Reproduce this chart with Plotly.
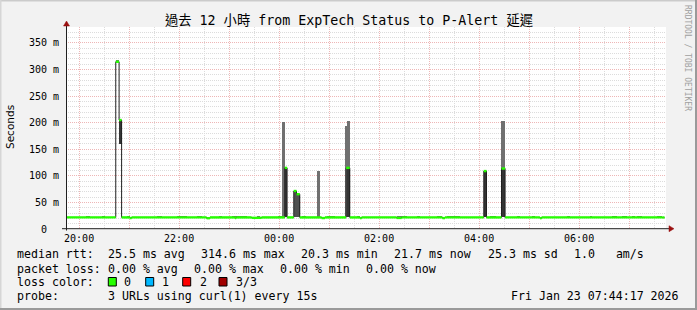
import pandas as pd
import plotly.graph_objects as go

# ---------------- data ----------------
t_start = "2026-01-22 19:44:17"
t_end = "2026-01-23 07:44:17"

median_times = [
    "2026-01-22 19:44:17", "2026-01-22 20:44:00", "2026-01-22 20:48:00", "2026-01-22 20:51:00",
    "2026-01-22 21:01:00", "2026-01-22 21:03:00", "2026-01-22 22:33:00", "2026-01-22 22:37:00",
    "2026-01-22 23:07:00", "2026-01-22 23:08:30", "2026-01-22 23:27:00", "2026-01-22 23:39:00",
    "2026-01-23 00:06:48", "2026-01-23 00:09:36", "2026-01-23 00:17:36", "2026-01-23 00:20:54",
    "2026-01-23 00:24:48", "2026-01-23 00:51:00", "2026-01-23 00:55:00", "2026-01-23 01:20:24",
    "2026-01-23 01:24:48", "2026-01-23 01:37:00", "2026-01-23 01:39:00", "2026-01-23 02:21:00",
    "2026-01-23 02:27:00", "2026-01-23 03:16:00", "2026-01-23 03:19:00", "2026-01-23 04:05:36",
    "2026-01-23 04:08:54", "2026-01-23 04:26:54", "2026-01-23 04:31:12", "2026-01-23 05:13:00",
    "2026-01-23 05:15:00", "2026-01-23 07:40:00",
]
median_ms = [21.8, 314.6, 205.0, 21.8,
             20.6, 21.8, 20.3, 21.8,
             20.6, 21.8, 21.0, 21.8,
             115.0, 21.8, 71.5, 65.5,
             21.8, 20.6, 21.8, 115.0,
             21.8, 20.5, 21.8, 20.8,
             21.8, 20.5, 21.8, 109.0,
             21.8, 113.8, 21.8, 20.4,
             21.8, 21.7]
median_last = "2026-01-23 07:42:30"

# light smoke (spread of the pings)
light_start = ["2026-01-22 20:44:00", "2026-01-23 00:03:36", "2026-01-23 00:44:54", "2026-01-23 01:18:48",
               "2026-01-23 01:21:36", "2026-01-23 04:25:42",
               "2026-01-22 20:08:00", "2026-01-22 20:28:00", "2026-01-22 20:57:00", "2026-01-22 21:33:00",
               "2026-01-22 21:57:00", "2026-01-22 22:21:00", "2026-01-22 22:49:00", "2026-01-22 23:04:00",
               "2026-01-22 23:33:00", "2026-01-22 23:59:00", "2026-01-23 00:28:00", "2026-01-23 00:57:00",
               "2026-01-23 01:33:00", "2026-01-23 02:21:00", "2026-01-23 02:45:00", "2026-01-23 03:10:00",
               "2026-01-23 03:21:00", "2026-01-23 04:13:00", "2026-01-23 04:45:00", "2026-01-23 05:03:00",
               "2026-01-23 05:45:00", "2026-01-23 06:13:00", "2026-01-23 06:40:00", "2026-01-23 06:52:00",
               "2026-01-23 07:03:00", "2026-01-23 07:10:00", "2026-01-23 07:34:00"]
light_end = ["2026-01-22 20:48:00", "2026-01-23 00:06:48", "2026-01-23 00:48:48", "2026-01-23 01:21:36",
             "2026-01-23 01:24:48", "2026-01-23 04:31:12",
             "2026-01-22 20:13:00", "2026-01-22 20:31:00", "2026-01-22 21:01:00", "2026-01-22 21:39:00",
             "2026-01-22 22:09:00", "2026-01-22 22:27:00", "2026-01-22 22:51:00", "2026-01-22 23:21:00",
             "2026-01-22 23:37:00", "2026-01-23 00:03:00", "2026-01-23 00:32:00", "2026-01-23 01:07:00",
             "2026-01-23 01:37:00", "2026-01-23 02:33:00", "2026-01-23 02:49:00", "2026-01-23 03:15:00",
             "2026-01-23 03:37:00", "2026-01-23 04:20:00", "2026-01-23 04:49:00", "2026-01-23 05:07:00",
             "2026-01-23 05:49:00", "2026-01-23 06:16:00", "2026-01-23 06:45:00", "2026-01-23 06:58:00",
             "2026-01-23 07:07:00", "2026-01-23 07:16:00", "2026-01-23 07:40:00"]
light_lo = [314.6, 21.8, 21.8, 21.8, 115.0, 113.8] + [21.8] * 27
light_hi = [318.0, 201.0, 109.0, 194.0, 203.0, 203.0,
            25.3, 25.3, 25.3, 25.3, 25.3, 25.3, 25.3, 25.3, 25.3,
            25.3, 25.3, 25.3, 25.3, 25.3, 25.3, 25.3, 25.3, 25.3,
            25.3, 25.3, 25.3, 25.3, 25.3, 25.3, 25.3, 25.3, 25.3]

# dark smoke (pings close to the median)
dark_start = ["2026-01-22 20:48:00", "2026-01-23 00:06:48", "2026-01-23 01:21:36",
              "2026-01-23 04:05:36", "2026-01-23 04:25:42"]
dark_end = ["2026-01-22 20:51:00", "2026-01-23 00:09:36", "2026-01-23 01:24:48",
            "2026-01-23 04:08:54", "2026-01-23 04:30:30"]
dark_lo = [160.0, 21.8, 21.8, 21.8, 21.8]
dark_hi = [205.0, 115.0, 115.0, 109.0, 113.8]

mid_start = ["2026-01-23 00:17:36", "2026-01-23 00:20:54"]
mid_end = ["2026-01-23 00:20:54", "2026-01-23 00:24:48"]
mid_lo = [21.8, 21.8]
mid_hi = [71.5, 65.5]

y_tick_vals = [0, 50, 100, 150, 200, 250, 300, 350]
y_tick_text = ["0\u00a0\u00a0", "50 m", "100 m", "150 m", "200 m", "250 m", "300 m", "350 m"]
x_tick_vals = ["2026-01-22 20:00", "2026-01-22 21:00", "2026-01-22 22:00", "2026-01-22 23:00",
               "2026-01-23 00:00", "2026-01-23 01:00", "2026-01-23 02:00", "2026-01-23 03:00",
               "2026-01-23 04:00", "2026-01-23 05:00", "2026-01-23 06:00", "2026-01-23 07:00"]
x_tick_text = ["20:00", "", "22:00", "", "00:00", "", "02:00", "", "04:00", "", "06:00", ""]

title_text = "過去 12 小時 from ExpTech Status to P-Alert 延遲"
row1 = ["median rtt:", "25.5 ms avg", "314.6 ms max", "20.3 ms min", "21.7 ms now", "25.3 ms sd",
        "1.0\u00a0\u00a0\u00a0am/s"]
row2 = ["packet loss:", "0.00 % avg", "0.00 % max", "0.00 % min", "0.00 % now"]
loss_labels = ["0", "1", "2", "3/3"]
loss_colors = ["#26ff00", "#00b8ff", "#ff0000", "#a00000"]
probe_text = "3 URLs using curl(1) every 15s"
date_text = "Fri Jan 23 07:44:17 2026"
watermark = "RRDTOOL / TOBI OETIKER"

# ---------------- layout helpers ----------------
W, H = 697, 310
L, R, T, B = 66, 31, 27, 81
PW = W - L - R
PH = H - T - B


def px(x):
    return (x - L) / PW


def py(y):
    return (H - B - y) / PH


MONO = "DejaVu Sans Mono, Noto Sans CJK TC, monospace"
BG = "#f2f2f2"


def bars(starts, ends, lo, hi, color):
    s = pd.to_datetime(starts)
    e = pd.to_datetime(ends)
    mids = s + (e - s) / 2
    widths = [(b - a).total_seconds() * 1000 for a, b in zip(s, e)]
    return go.Bar(x=mids, y=[h - l for l, h in zip(lo, hi)], base=lo, width=widths,
                  marker=dict(color=color, line=dict(width=0)), hoverinfo="skip", showlegend=False)


fig = go.Figure()
fig.add_trace(bars(light_start, light_end, light_lo, light_hi, "#707070"))
fig.add_trace(bars(mid_start, mid_end, mid_lo, mid_hi, "#505050"))
fig.add_trace(bars(dark_start, dark_end, dark_lo, dark_hi, "#353535"))

# median: thin dark step line
mx = median_times + [median_last]
my = median_ms + [median_ms[-1]]
fig.add_trace(go.Scatter(x=mx, y=my, mode="lines", line=dict(color="#202020", width=1, shape="hv"),
                         hoverinfo="skip", showlegend=False))
# median: green (loss 0) horizontal bands
gx, gy = [], []
for i in range(len(median_ms)):
    gx += [mx[i], mx[i + 1], None]
    gy += [median_ms[i], median_ms[i], None]
fig.add_trace(go.Scatter(x=gx, y=gy, mode="lines", line=dict(color=loss_colors[0], width=2.4),
                         hoverinfo="skip", showlegend=False))

ann = []


def note(x, y, text, font, **kw):
    d = dict(x=px(x), y=py(y), xref="paper", yref="paper", text=text, showarrow=False,
             font=font, borderpad=0)
    d.setdefault("xanchor", "left")
    d.update(kw)
    ann.append(d)


# title
note(348.5, 21, title_text, dict(family=MONO, size=13.3, color="#000000"), xanchor="center", yanchor="middle")
# y title
note(10, 127, "Seconds", dict(family="DejaVu Sans, sans-serif", size=10.5, color="#000000"),
     xanchor="center", yanchor="middle", textangle=-90)
# watermark
note(688, 58, watermark, dict(family=MONO, size=8, color="#a0a0a0"),
     xanchor="center", yanchor="middle", textangle=90)

LEG = dict(family=MONO, size=11.6, color="#000000")
row1_x = [16, 107.3, 200, 300, 393.3, 486.7, 573.3]
row2_x = [16, 107.3, 193.3, 279.3, 365]
for t, x in zip(row1, row1_x):
    note(x, 254, t, LEG, yanchor="middle")
for t, x in zip(row2, row2_x):
    note(x, 268.5, t, LEG, yanchor="middle")
note(16, 282, "loss color:", LEG, yanchor="middle")
box_x = [108.3, 145.7, 182.7, 219]
lab_x = [123.3, 161, 199, 235]
shapes = []
for lbl, c, bx, lx in zip(loss_labels, loss_colors, box_x, lab_x):
    shapes.append(dict(type="rect", xref="paper", yref="paper", x0=px(bx), x1=px(bx + 8), y0=py(286), y1=py(277.5),
                       fillcolor=c, line=dict(color="#000000", width=1)))
    note(lx, 282, lbl, LEG, yanchor="middle")
note(16, 296, "probe:", LEG, yanchor="middle")
note(107.3, 296, probe_text, LEG, yanchor="middle")
note(680, 296, date_text, LEG, yanchor="middle", xanchor="right")

AX = "#202020"
ARROW = "#9a1010"
# axes with arrows
shapes += [
    dict(type="line", xref="paper", yref="paper", x0=px(62), x1=px(669), y0=py(228.7), y1=py(228.7),
         line=dict(color=AX, width=1)),
    dict(type="line", xref="paper", yref="paper", x0=px(66.5), x1=px(66.5), y0=py(230.5), y1=py(25),
         line=dict(color=AX, width=1)),
    dict(type="path", xref="paper", yref="paper",
         path=f"M {px(669)} {py(225.7)} L {px(674)} {py(228.7)} L {px(669)} {py(231.7)} Z",
         fillcolor=ARROW, line=dict(color=ARROW, width=0.5)),
    dict(type="path", xref="paper", yref="paper",
         path=f"M {px(63.5)} {py(26)} L {px(66.5)} {py(21)} L {px(69.5)} {py(26)} Z",
         fillcolor=ARROW, line=dict(color=ARROW, width=0.5)),
    # frame
    dict(type="rect", xref="paper", yref="paper", x0=px(0), x1=px(697), y0=py(1.5), y1=py(0),
         fillcolor="#cbcbcb", line=dict(width=0)),
    dict(type="rect", xref="paper", yref="paper", x0=px(0), x1=px(1.5), y0=py(310), y1=py(0),
         fillcolor="#d6d6d6", line=dict(width=0)),
    dict(type="rect", xref="paper", yref="paper", x0=px(695), x1=px(697), y0=py(310), y1=py(0),
         fillcolor="#9a9a9a", line=dict(width=0)),
    dict(type="rect", xref="paper", yref="paper", x0=px(0), x1=px(697), y0=py(310), y1=py(308),
         fillcolor="#9a9a9a", line=dict(width=0)),
]

fig.update_layout(
    width=W, height=H,
    margin=dict(l=L, r=R, t=T, b=B, pad=0),
    paper_bgcolor=BG, plot_bgcolor="#ffffff",
    barmode="overlay", bargap=0,
    showlegend=False,
    annotations=ann, shapes=shapes,
    xaxis=dict(type="date", range=[t_start, t_end], tickmode="array", tickvals=x_tick_vals,
               ticktext=x_tick_text, showgrid=True, gridcolor="#eeb6b6", griddash="1px,1px", gridwidth=1,
               showline=False, zeroline=False, ticks="", ticklabelstandoff=2,
               tickfont=dict(family=MONO, size=10, color="#000000"),
               minor=dict(dtick=1800000, tick0="2026-01-22 19:30", showgrid=True, gridcolor="#dcdcdc",
                          griddash="1px,1px", gridwidth=1)),
    yaxis=dict(range=[0, 380], tickmode="array", tickvals=y_tick_vals, ticktext=y_tick_text,
               showgrid=True, gridcolor="#eeb6b6", griddash="1px,1px", gridwidth=1,
               showline=False, zeroline=False, ticks="", ticklabelstandoff=6,
               tickfont=dict(family=MONO, size=10, color="#000000"),
               minor=dict(dtick=10, tick0=0, showgrid=True, gridcolor="#dcdcdc",
                          griddash="1px,1px", gridwidth=1)),
)

fig.write_html("out.html")
